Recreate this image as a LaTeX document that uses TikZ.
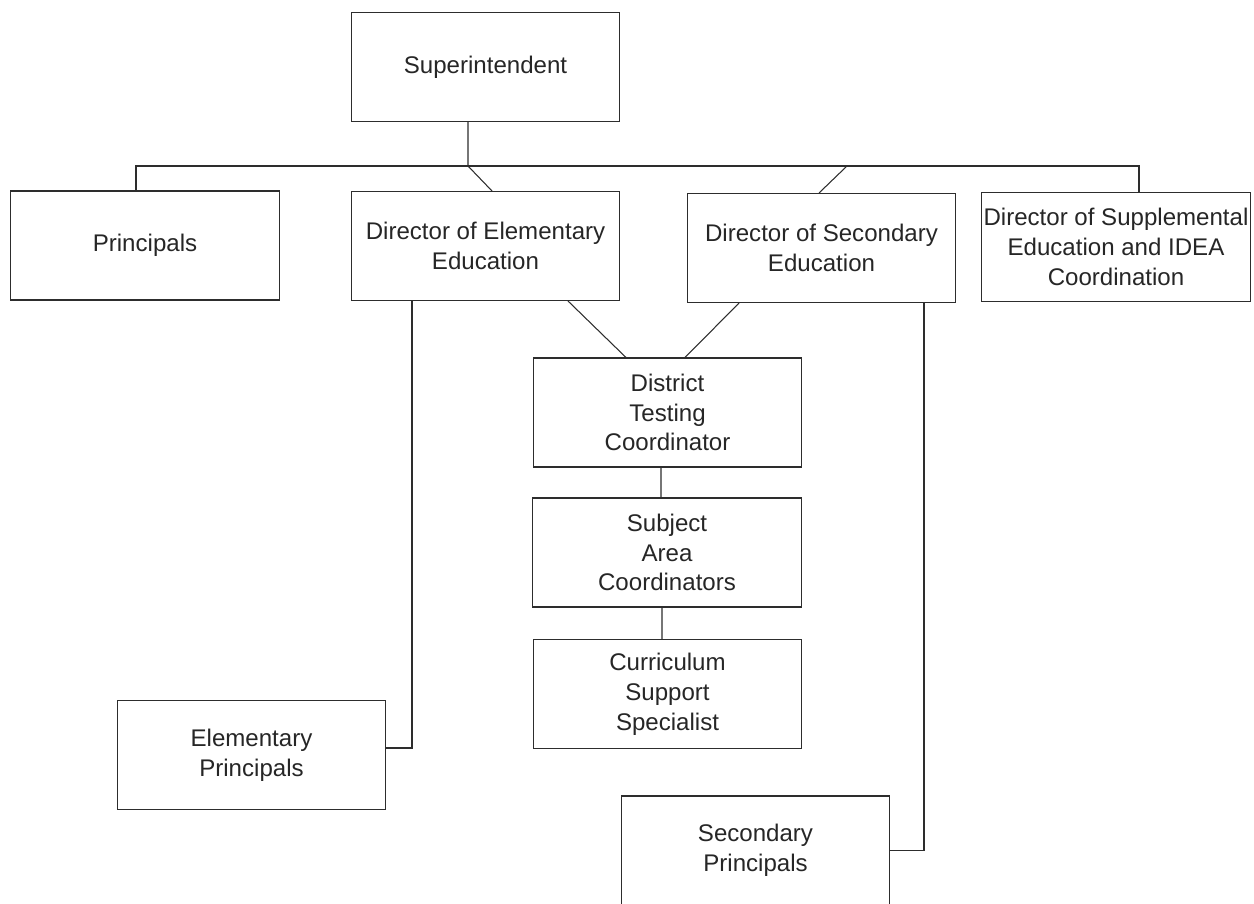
\documentclass[tikz,border=0pt]{standalone}
\usepackage{fontspec}
\setmainfont{Liberation Sans}
\usetikzlibrary{calc}
\definecolor{orgline}{RGB}{45,45,45}
\tikzset{
  orgbox/.style={draw=orgline, line width=0.6pt, minimum width=5.37cm, minimum height=2.18cm,
              inner sep=0pt, align=center, font=\fontsize{13.7}{17}\selectfont, text=black!85},
  orglink/.style={orgline, line width=0.6pt},
}

\begin{document}
\begin{tikzpicture}[x=0.02cm, y=-0.02cm]
  \useasboundingbox (0,0) rectangle (1254,903);
  % boxes
  \node[orgbox] (sup)  at (485.5,67)   {Superintendent};
  \node[orgbox] (prin) at (145,245.5)  {Principals};
  \node[orgbox] (dele) at (485.5,246)  {Director of Elementary\\Education};
  \node[orgbox] (dsec) at (821.5,248)  {Director of Secondary\\Education};
  \node[orgbox] (supp) at (1116,247)   {Director of Supplemental\\Education and IDEA\\Coordination};
  \node[orgbox] (dtc)  at (667.5,412.5) {District\\Testing\\Coordinator};
  \node[orgbox] (sac)  at (667,552.5)  {Subject\\Area\\Coordinators};
  \node[orgbox] (css)  at (667.5,694)  {Curriculum\\Support\\Specialist};
  \node[orgbox] (elp)  at (251.5,755)  {Elementary\\Principals};
  \node[orgbox] (sep)  at (755.5,850.5) {Secondary\\Principals};
  % links
  \coordinate (hub) at (468,166);
  \coordinate (hubr) at (847,166);
  \draw[orglink] ([xshift=-0.35cm]sup.south) -- (hub);
  \draw[orglink] (hub) -| ([xshift=-0.18cm]prin.north);
  \draw[orglink] (hub) -| ([xshift=0.46cm]supp.north);
  \draw[orglink] (hub) -- ([xshift=0.13cm]dele.north);
  \draw[orglink] (hubr) -- ([xshift=-0.05cm]dsec.north);
  \draw[orglink] ([xshift=1.65cm]dele.south) -- ([xshift=-0.83cm]dtc.north);
  \draw[orglink] ([xshift=-1.65cm]dsec.south) -- ([xshift=0.35cm]dtc.north);
  \draw[orglink] ([xshift=-0.13cm]dtc.south) -- ([xshift=-0.12cm]sac.north);
  \draw[orglink] ([xshift=-0.1cm]sac.south) -- ([xshift=-0.11cm]css.north);
  \draw[orglink] ([xshift=-1.47cm]dele.south) |- ([yshift=0.14cm]elp.east);
  \draw[orglink] ([xshift=2.05cm]dsec.south) |- (sep.east);
\end{tikzpicture}
\end{document}
